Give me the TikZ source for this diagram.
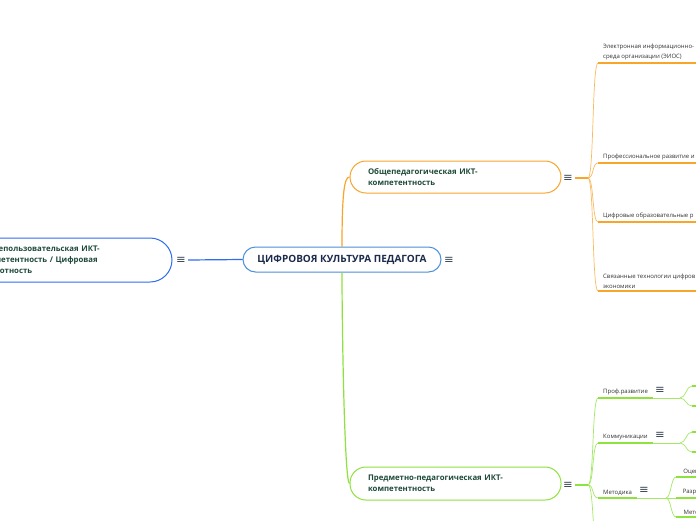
\documentclass[tikz,border=0pt]{standalone}
\usepackage{fontspec}
\setmainfont{Open Sans}
\newfontfamily\symfont{DejaVu Sans}
\usetikzlibrary{calc}
\definecolor{central}{HTML}{4A90D9}
\definecolor{general}{HTML}{F7A52B}
\definecolor{subject}{HTML}{8DE23E}
\definecolor{user}{HTML}{2F6CF2}
\definecolor{title}{HTML}{1B2B4B}
\definecolor{label}{HTML}{1E4A3A}
\definecolor{leaftext}{HTML}{333333}
\definecolor{icon}{HTML}{3A4752}

\begin{document}
\begin{tikzpicture}[x=1pt,y=-1pt,
  topic/.style={draw,fill=white,line width=1pt,rounded corners=16pt,minimum height=32pt,
    text width=175pt,inner xsep=18pt,align=left,text=label,
    font=\fontsize{7.8}{11}\selectfont\bfseries},
  leaf/.style={anchor=south west,inner xsep=5pt,inner ysep=2.5pt,align=left,text=leaftext,
    font=\fontsize{6}{10}\selectfont},
  menu/.style={inner sep=0pt,text=icon,font=\symfont\fontsize{11.5}{11.5}\selectfont},
  fan/.style={line width=0.7pt},
  bar/.style={line width=1.5pt}]
  \clip (0,0) rectangle (696,520);
  \fill[white] (0,0) rectangle (696,520);

  % Central topic
  \node[draw=central,fill=white,line width=1pt,rounded corners=12.5pt,minimum width=198pt,
    minimum height=25pt,inner sep=0pt,text=title,font=\fontsize{10}{11}\selectfont\bfseries]
    (center) at (342,259.5) {ЦИФРОВОЯ КУЛЬТУРА ПЕДАГОГА};
  \node[menu] (centermenu) at (449,260) {≡};

  % Left topic
  \node[topic,draw=user,minimum height=44pt,rounded corners=22pt,text width=174pt]
    (user) at (67,260) {Общепользовательская ИКТ-\\компетентность / Цифровая\\грамотность};
  \node[menu] (usermenu) at (181,260) {≡};
  \draw[user,line width=1.2pt] (usermenu.east) ++(2,0) -- (center.west);

  % General branch
  \node[topic,draw=general] (general) at (455.5,177) {Общепедагогическая ИКТ-\\компетентность};
  \node[menu] (generalmenu) at (568,178) {≡};
  \coordinate (gjoint) at (588,178);
  \draw[general,line width=1.2pt] (center.north) .. controls +(0,-55) and +(-5,0) .. (general.west);
  \draw[general,bar] (generalmenu.east) ++(2,0) -- (gjoint);

  \node[leaf] (eios) at (598,63) {Электронная информационно-\\среда организации (ЭИОС)};
  \node[leaf] (profdev) at (598,163) {Профессиональное развитие и};
  \node[leaf] (digres) at (598,222) {Цифровые образовательные р};
  \node[leaf] (econ) at (598,291) {Связанные технологии цифров\\ экономики};
  \foreach \n in {eios,profdev,digres,econ} {
    \draw[general!75,fan] (gjoint) .. controls +(6,0) and +(-6,0) .. (\n.south west);
    \draw[general,bar] (\n.south west) -- (\n.south east);
  }

  % Subject branch
  \node[topic,draw=subject,minimum height=33pt] (subject) at (455.5,483.5) {Предметно-педагогическая ИКТ-\\компетентность};
  \node[menu] (subjectmenu) at (568,485) {≡};
  \coordinate (sjoint) at (588,485);
  \draw[subject,line width=1.2pt] (center.south) .. controls +(0,55) and +(-5,0) .. (subject.west);
  \draw[subject,bar] (subjectmenu.east) ++(2,0) -- (sjoint);

  \node[leaf] (growth) at (598,398) {Проф.развитие};
  \node[leaf] (comm) at (598,443) {Коммуникации};
  \node[leaf] (method) at (598,498) {Методика};
  \coordinate (below) at (598,548);
  \foreach \n in {growth,comm,method} {
    \draw[subject!80,fan] (sjoint) .. controls +(6,0) and +(-6,0) .. (\n.south west);
    \draw[subject,bar] (\n.south west) -- (\n.south east);
  }
  \draw[subject!80,fan] (sjoint) .. controls +(6,0) and +(-6,0) .. (below);

  % Проф.развитие
  \node[menu] (growthmenu) at (660,390) {≡};
  \coordinate (growthjoint) at (680,398);
  \coordinate (growth1) at (692,386);
  \coordinate (growth2) at (692,406);
  \draw[subject!80,fan] (growth.south east) -- (growthjoint);
  \foreach \c in {growth1,growth2} {
    \draw[subject!80,fan] (growthjoint) .. controls +(6,0) and +(-6,0) .. (\c);
    \draw[subject,bar] (\c) -- ++(20,0);
  }

  % Коммуникации
  \node[menu] (commmenu) at (660,435) {≡};
  \coordinate (commjoint) at (680,443);
  \coordinate (comm1) at (692,432);
  \coordinate (comm2) at (692,452);
  \draw[subject!80,fan] (comm.south east) -- (commjoint);
  \foreach \c in {comm1,comm2} {
    \draw[subject!80,fan] (commjoint) .. controls +(6,0) and +(-6,0) .. (\c);
    \draw[subject,bar] (\c) -- ++(20,0);
  }

  % Методика
  \node[menu] (methodmenu) at (644,490) {≡};
  \coordinate (methodjoint) at (666,498);
  \node[leaf,inner xsep=4pt,minimum width=30pt] (assess) at (676,477) {Оцен};
  \node[leaf,inner xsep=4pt,minimum width=30pt] (design) at (676,498) {Разра};
  \node[leaf,inner xsep=4pt,minimum width=30pt] (methods) at (676,517) {Мето};
  \draw[subject!80,fan] (method.south east) -- (methodjoint);
  \foreach \n in {assess,design,methods} {
    \draw[subject!80,fan] (methodjoint) .. controls +(5,0) and +(-5,0) .. (\n.south west);
    \draw[subject,bar] (\n.south west) -- (\n.south east);
  }
\end{tikzpicture}
\end{document}
